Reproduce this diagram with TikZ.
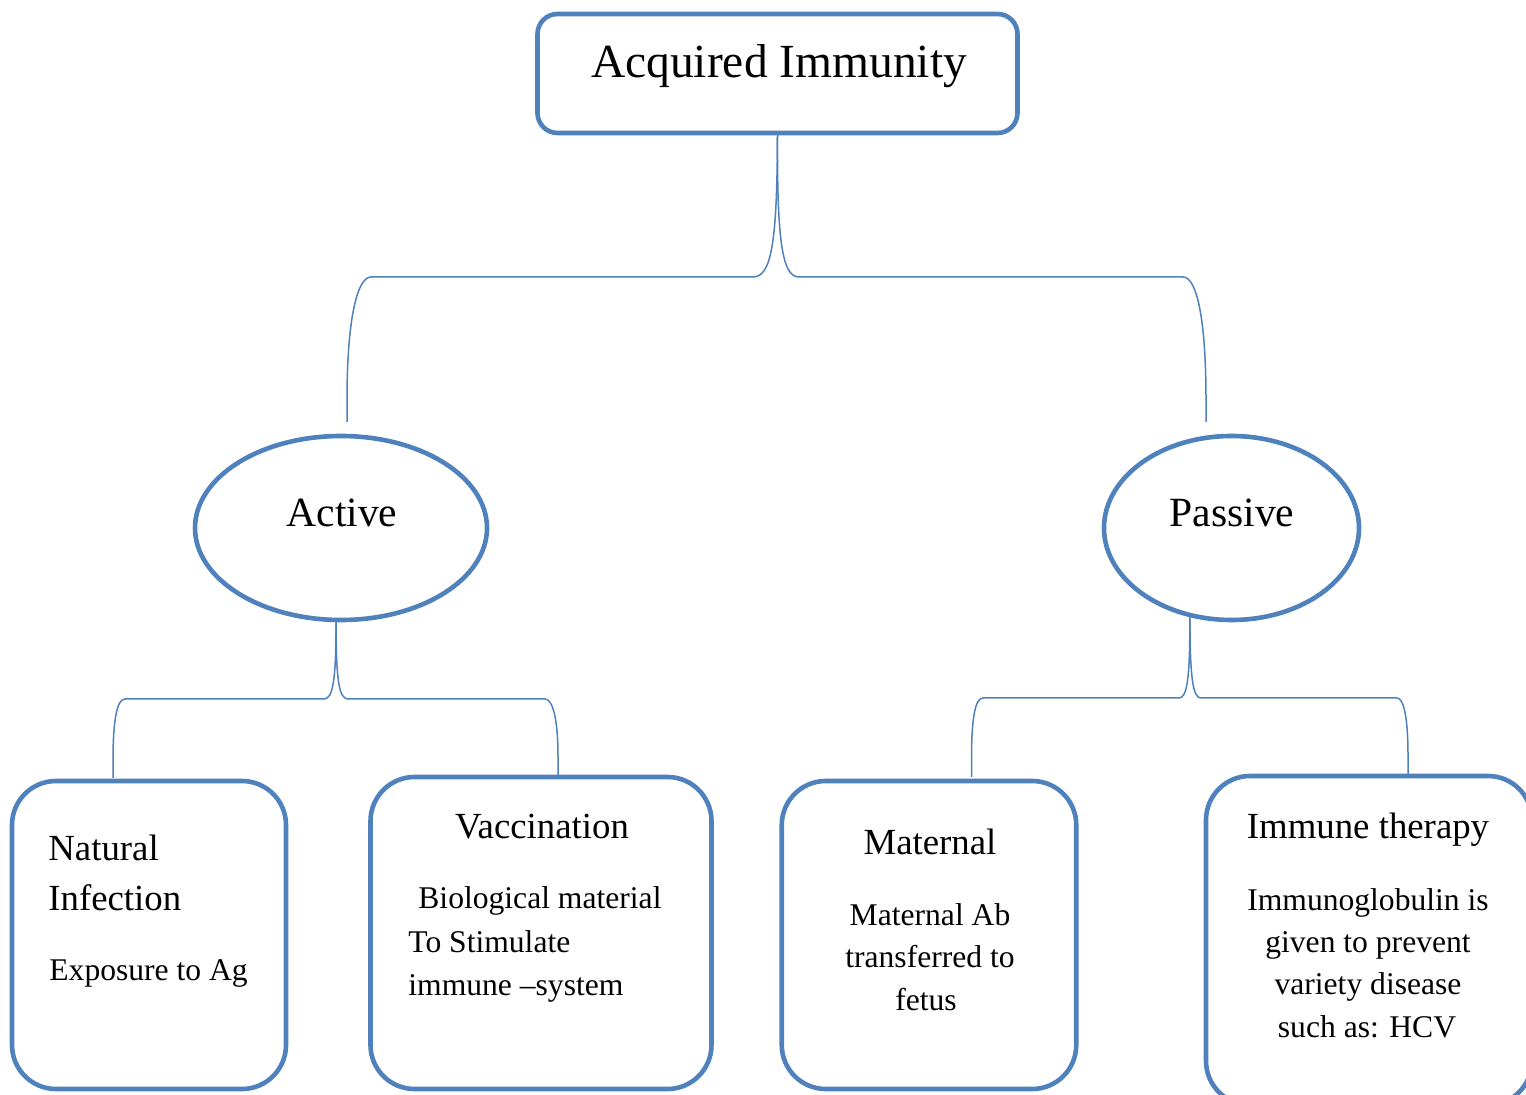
\documentclass[tikz,border=0pt]{standalone}
\usepackage{fontspec}
\setmainfont{Liberation Serif}
\usetikzlibrary{shapes.geometric}
\definecolor{obl}{RGB}{79,129,189}
\tikzset{
  frame/.style={draw=obl, line width=2.3pt, rounded corners=22pt, inner sep=0pt},
  oval/.style={draw=obl, line width=2.3pt, ellipse, inner sep=0pt},
  conn/.style={draw=obl, line width=0.75pt},
  ttl/.style={font=\fontsize{23.75pt}{28pt}\selectfont, anchor=base, inner sep=0pt},
  big/.style={font=\fontsize{20.8pt}{25pt}\selectfont, anchor=base, inner sep=0pt},
  head/.style={font=\fontsize{18.4pt}{22pt}\selectfont, anchor=base, inner sep=0pt},
  body/.style={font=\fontsize{15.8pt}{21pt}\selectfont, anchor=base, inner sep=0pt},
}
\begin{document}
\begin{tikzpicture}[x=0.5pt,y=-0.5pt]
\clip (0,0) rectangle (1526,1095);
\fill[white] (0,0) rectangle (1526,1095);
% shapes
\node[frame, rounded corners=10pt, minimum width=240pt, minimum height=59.5pt] (title) at (777.5,73.5) {};
\node[oval, minimum width=146pt, minimum height=92pt] (active) at (341,528) {};
\node[oval, minimum width=127.5pt, minimum height=92pt] (passive) at (1231.5,528) {};
\node[frame, minimum width=137pt, minimum height=154pt] (natural) at (149,935) {};
\node[frame, minimum width=170.5pt, minimum height=156pt] (vacc) at (541,933) {};
\node[frame, minimum width=147.25pt, minimum height=154pt] (maternal) at (929,935) {};
\node[frame, minimum width=163pt, minimum height=164.5pt] (therapy) at (1369,940.5) {};
% connector end points
\coordinate (tl) at (347,422);
\coordinate (tr) at (1206,422);
\coordinate (al) at (113,778);
\coordinate (ar) at (558,775);
\coordinate (pl) at (971.5,777);
\coordinate (pr) at (1408,774);
% top brace
\draw[conn] (title.south) .. controls (777,240) and (772,277) .. (753,277) -- (371,277)
  .. controls (357,277) and (347,320) .. (347,400) -- (tl);
\draw[conn] (title.south) .. controls (777,240) and (782,277) .. (799,277) -- (1183,277)
  .. controls (1197,277) and (1206,320) .. (1206,400) -- (tr);
% active brace
\draw[conn] (active.267) .. controls (336,680) and (333,699) .. (324,699) -- (125,699)
  .. controls (117,699) and (113,720) .. (113,760) -- (al);
\draw[conn] (active.267) .. controls (336,680) and (339,699) .. (348,699) -- (545,699)
  .. controls (553,699) and (558,720) .. (558,757) -- (ar);
% passive brace
\draw[conn] (passive.245) .. controls (1190,679) and (1187,698) .. (1179,698) -- (983,698)
  .. controls (975,698) and (971.5,719) .. (971.5,759) -- (pl);
\draw[conn] (passive.245) .. controls (1190,679) and (1193,698) .. (1201,698) -- (1397,698)
  .. controls (1404,698) and (1408,719) .. (1408,756) -- (pr);
% texts
\node[ttl] (titleT) at (779,78) {Acquired Immunity};
\node[big] (activeT) at (342,527) {Active};
\node[big] (passiveT) at (1232,527) {Passive};
\node[head, anchor=base west] (natT1) at (48,860) {Natural};
\node[head, anchor=base west] (natT2) at (48,910) {Infection};
\node[body, anchor=base west] (natB) at (49,980) {Exposure to Ag};
\node[head] (vacT) at (542,838) {Vaccination};
\node[body, anchor=base west] (vacB1) at (418,908) {Biological material};
\node[body, anchor=base west] (vacB2) at (408,952) {To Stimulate};
\node[body, anchor=base west] (vacB3) at (408,995) {immune –system};
\node[head] (matT) at (930,855) {Maternal};
\node[body] (matB1) at (930,925) {Maternal Ab};
\node[body] (matB2) at (930,967) {transferred to};
\node[body] (matB3) at (926,1010) {fetus};
\node[head] (thT) at (1368,838) {Immune therapy};
\node[body] (thB1) at (1368,910) {Immunoglobulin is};
\node[body] (thB2) at (1368,952) {given to prevent};
\node[body] (thB3) at (1368,994) {variety disease};
\node[body] (thB4) at (1367,1037) {such as: HCV};
\end{tikzpicture}
\end{document}
